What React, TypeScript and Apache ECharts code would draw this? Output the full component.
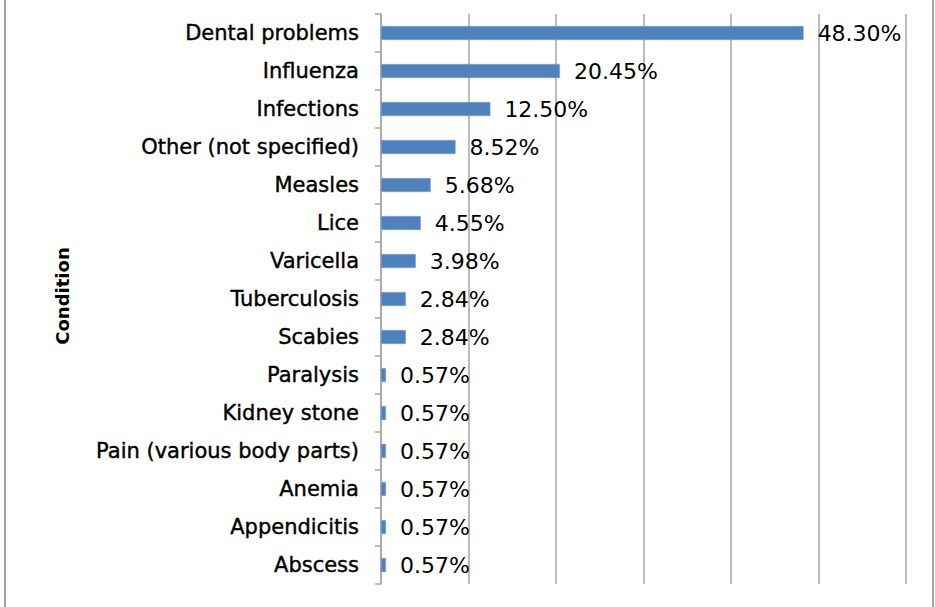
import React, { useEffect, useRef } from "react";
import * as echarts from "echarts";

const categories = [
  "Dental problems",
  "Influenza",
  "Infections",
  "Other (not specified)",
  "Measles",
  "Lice",
  "Varicella",
  "Tuberculosis",
  "Scabies",
  "Paralysis",
  "Kidney stone",
  "Pain (various body parts)",
  "Anemia",
  "Appendicitis",
  "Abscess",
];
const values = [48.3, 20.45, 12.5, 8.52, 5.68, 4.55, 3.98, 2.84, 2.84, 0.57, 0.57, 0.57, 0.57, 0.57, 0.57];
const axisTitle = "Condition";

export default function App() {
  const ref = useRef<HTMLDivElement>(null);
  useEffect(() => {
    const chart = echarts.init(ref.current!, null, { renderer: "svg" });
    chart.setOption({
      animation: false,
      backgroundColor: "#ffffff",
      grid: { left: 381, right: 29, top: 14, bottom: 23, containLabel: false },
      xAxis: {
        type: "value",
        min: 0,
        max: 60,
        interval: 10,
        axisLine: { show: false },
        axisTick: { show: false },
        axisLabel: { show: false },
        splitLine: { show: true, lineStyle: { color: "#a6a6a6", width: 1.5 } },
      },
      yAxis: {
        type: "category",
        data: categories,
        inverse: true,
        axisLine: { show: true, lineStyle: { color: "#a6a6a6", width: 1.5 } },
        axisTick: { show: true, length: 6, alignWithLabel: false, lineStyle: { color: "#a6a6a6", width: 1.5 } },
        axisLabel: {
          margin: 22,
          color: "#000",
          fontSize: 21,
          fontFamily: "DejaVu Sans",
          textBorderColor: "#000",
          textBorderWidth: 0.4,
        },
      },
      graphic: [
        {
          type: "rect",
          shape: { x: 5, y: -5, width: 928, height: 620 },
          style: { fill: "none", stroke: "#888", lineWidth: 1.5 },
          silent: true,
        },
        {
          type: "text",
          x: 62,
          y: 296,
          rotation: Math.PI / 2,
          style: {
            text: axisTitle,
            fontSize: 18,
            fontWeight: "bold",
            fontFamily: "DejaVu Sans",
            fill: "#000",
            align: "center",
            verticalAlign: "middle",
          },
        },
      ],
      series: [
        {
          type: "bar",
          data: values,
          barWidth: 14,
          itemStyle: { color: "#4f81bd", borderColor: "#7fa3d0", borderWidth: 0.5 },
          label: {
            show: true,
            position: "right",
            distance: 14,
            color: "#000",
            fontSize: 22,
            fontFamily: "DejaVu Sans",
            formatter: (p: any) => p.value.toFixed(2) + "%",
          },
        },
      ],
    });
    return () => chart.dispose();
  }, []);
  return (
    <div
      ref={ref}
      style={{ position: "fixed", left: 0, top: 0, width: 935, height: 607 }}
    />
  );
}
